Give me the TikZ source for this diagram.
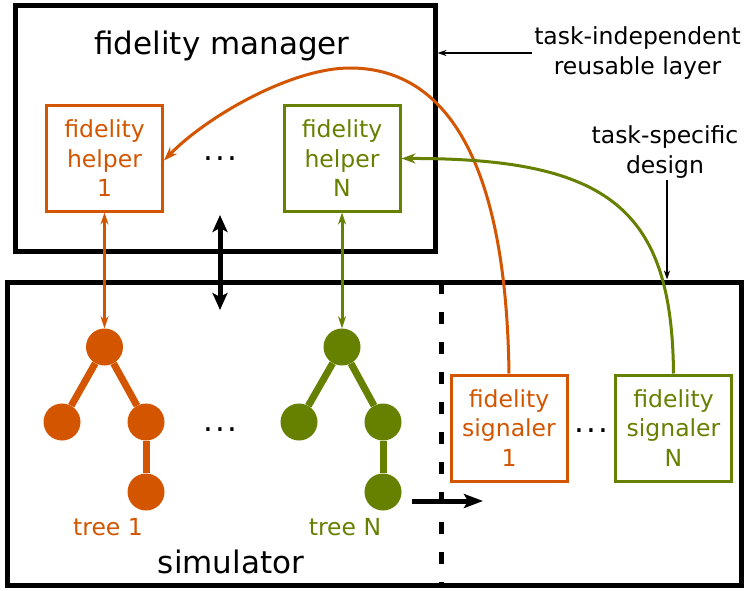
\documentclass[tikz,border=0pt]{standalone}
\usepackage{fontspec}
\setmainfont{DejaVu Sans}
\usetikzlibrary{arrows.meta}
\definecolor{orng}{RGB}{212,85,0}
\definecolor{grn}{RGB}{102,128,0}
\newcommand{\mydots}{.\kern2.2pt.\kern2.2pt.}
\begin{document}
\begin{tikzpicture}[x=1pt,y=-1pt,
  big/.style={font=\fontsize{31}{37}\selectfont},
  small/.style={font=\fontsize{23.5}{29.5}\selectfont},
  dotsnode/.style={font=\fontsize{31}{37}\selectfont,inner sep=0pt},
  layer/.style={draw=black,line width=5pt,inner sep=0pt},
  comp/.style={draw=#1,text=#1,line width=3pt,minimum width=116pt,minimum height=105pt,align=center,inner sep=0pt,small},
  tn/.style={circle,fill=#1,minimum size=37pt,inner sep=0pt},
  te/.style={draw=#1,line width=7pt},
  link/.style={draw=#1,line width=3pt,{Stealth[length=12pt,width=8pt]}-{Stealth[length=12pt,width=8pt]}},
  curvelink/.style={draw=#1,line width=3pt,-{Stealth[length=14pt,width=10pt]}},
  thickarrow/.style={draw=black,line width=5pt},
  ann/.style={draw=black,line width=1.7pt,-{Stealth[length=9pt,width=6pt]}},
  annot/.style={small,align=center,inner sep=2pt},
  ]
\useasboundingbox (0,0) rectangle (747,591);
\fill[white] (0,0) rectangle (747,591);

% layers
\node[layer,minimum width=420pt,minimum height=245pt] (mgr) at (225,128.5) {};
\node[layer,minimum width=734pt,minimum height=303pt] (sim) at (374,433.5) {};
\node[big,anchor=base] (mgrtitle) at (222,55) {fidelity manager};
\node[big,anchor=base] (simtitle) at (231,573) {simulator};

% helpers
\node[comp=orng] (h1) at (104.5,158.5) {fidelity\\helper\\1};
\node[comp=grn] (hN) at (342,158.5) {fidelity\\helper\\N};
\node[dotsnode] (hdots) at (220,159) {\mydots};

% signalers
\node[comp=orng,minimum height=106pt] (s1) at (509,428) {fidelity\\signaler\\1};
\node[comp=grn,minimum height=106pt] (sN) at (673.5,428) {fidelity\\signaler\\N};
\node[dotsnode] (sdots) at (591,431) {\mydots};

% dashed separator
\coordinate (dtop) at (441,282);
\coordinate (dbot) at (441,585);
\draw[line width=5pt,dash pattern=on 12pt off 18pt] (dtop) -- (dbot);

% trees
\node[tn=orng] (r1) at (104.5,347) {};
\node[tn=orng] (a1) at (62,422) {};
\node[tn=orng] (b1) at (146,422) {};
\node[tn=orng] (c1) at (146,492) {};
\draw[te=orng] (r1) -- (a1);
\draw[te=orng] (r1) -- (b1);
\draw[te=orng] (b1) -- (c1);
\node[tn=grn] (rN) at (342,347) {};
\node[tn=grn] (aN) at (299,422) {};
\node[tn=grn] (bN) at (383,422) {};
\node[tn=grn] (cN) at (383,492) {};
\draw[te=grn] (rN) -- (aN);
\draw[te=grn] (rN) -- (bN);
\draw[te=grn] (bN) -- (cN);
\node[small,anchor=base,text=orng] (t1) at (108,535) {tree 1};
\node[small,anchor=base,text=grn] (tN) at (345,535) {tree N};
\node[dotsnode] (tdots) at (220,430) {\mydots};

% helper <-> tree links
\draw[link=orng] (h1.south) -- (r1.north);
\draw[link=grn] (hN.south) -- (rN.north);

% manager <-> simulator
\coordinate (da) at (220,215);
\coordinate (db) at (220,310);
\draw[thickarrow,{Stealth[length=17pt,width=15pt,inset=4pt]}-{Stealth[length=17pt,width=15pt,inset=4pt]}] (da) -- (db);

% horizontal arrow
\coordinate (ha) at (412,501);
\coordinate (hb) at (483,501);
\draw[thickarrow,-{Stealth[length=19pt,width=14pt,inset=4pt]}] (ha) -- (hb);

% signaler -> helper curves
\draw[curvelink=orng] (s1.north) .. controls (506,150) and (440,68) .. (350,68)
   .. controls (290,68) and (205,118) .. ([yshift=-2pt]h1.east);
\draw[curvelink=grn] (sN.north) .. controls (672,210) and (610,158) .. (hN.east);

% annotations
\node[annot] (ti) at (637.5,53) {task-independent\\reusable layer};
\draw[ann] (ti.west) -- (ti.west -| mgr.east);
\node[annot] (ts) at (665,152) {task-specific\\design};
\draw[ann] ([xshift=2pt]ts.south) -- ([xshift=2pt]ts.south |- sim.north);
\end{tikzpicture}
\end{document}
